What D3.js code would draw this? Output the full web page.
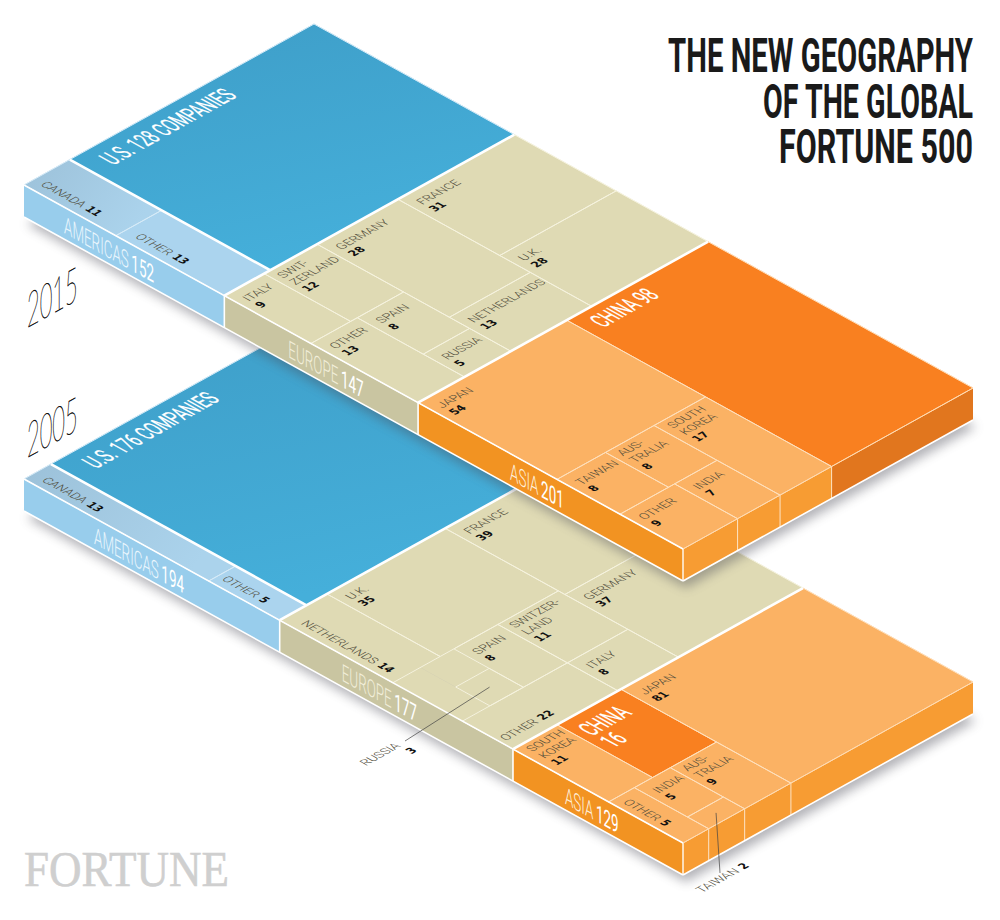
<!DOCTYPE html>
<html><head><meta charset="utf-8">
<script src="https://cdn.jsdelivr.net/npm/d3@7"></script>
<style>html,body{margin:0;background:#fff}svg{display:block}</style></head>
<body><svg id="c" width="1000" height="920"></svg>
<script>
// ---------- data: nested slice/dice layouts of the 500 companies ----------
const americas2015 = ['slice', ['dice', ['CANADA', 11], ['OTHER', 13]], ['U.S.', 128]];
const europe2015 = ['slice',
  ['dice', ['slice', ['ITALY', 9], ['SWITZERLAND', 12]],
           ['slice', ['OTHER', 13], ['dice', ['SPAIN', 8], ['RUSSIA', 5]]]],
  ['dice', ['GERMANY', 28], ['NETHERLANDS', 13]],
  ['dice', ['FRANCE', 31], ['U.K.', 28]]];
const asia2015 = ['slice',
  ['dice', ['JAPAN', 54],
           ['slice', ['dice', ['slice', ['TAIWAN', 8], ['AUSTRALIA', 8]],
                              ['slice', ['OTHER', 9], ['INDIA', 7]]],
                     ['SOUTH KOREA', 17]]],
  ['CHINA', 98]];
const otherParts2005 = [5, 3.1, 13.9]; // the L-shaped "Other 22" around Spain and Russia
const americas2005 = ['slice', ['dice', ['CANADA', 13], ['OTHER', 5]], ['U.S.', 176]];
const europe2005 = ['slice',
  ['dice', ['slice', ['NETHERLANDS', 14], ['U.K.', 35]],
           ['slice',
             ['dice', ['slice', ['', otherParts2005[0]],
                                ['dice', ['', otherParts2005[1]], ['RUSSIA', 3]],
                                ['SPAIN', 8]],
                      ['OTHER', otherParts2005[2]]],
             ['dice', ['SWITZERLAND', 11], ['ITALY', 8]]]],
  ['dice', ['FRANCE', 39], ['GERMANY', 37]]];
const asia2005 = ['slice',
  ['dice', ['slice', ['SOUTH KOREA', 11], ['CHINA', 16]],
           ['slice', ['OTHER', 5], ['dice', ['INDIA', 5], ['TAIWAN', 2]], ['AUSTRALIA', 9]]],
  ['JAPAN', 81]];
const regionNames = ['AMERICAS', 'EUROPE', 'ASIA'];
const titleLines = ['THE NEW GEOGRAPHY', 'OF THE GLOBAL', 'FORTUNE 500'];
const titleWidths = [305, 210, 194];

// ---------- label placement (separate from values) ----------
const label2015 = {
  '0CANADA': {plane:'u', inline:true, at:[9,9]},
  '0OTHER': {plane:'u', inline:true, at:[12,9]},
  '1SWITZERLAND': {lines:['SWIT-','ZERLAND'], at:[16,6]},
  '1NETHERLANDS': {at:[20,8]},
  '2SOUTH KOREA': {lines:['SOUTH','KOREA'], at:[14,8]},
  '2AUSTRALIA': {lines:['AUS-','TRALIA'], at:[14,6]},
  '0U.S.': {big:true, text:'U.S. 128 COMPANIES', at:[31,19]},
  '2CHINA': {big:true, text:'CHINA 98', at:[29,13]}
};
const label2005 = {
  '0CANADA': {plane:'u', inline:true, at:[11.5,8]},
  '0OTHER': {plane:'u', inline:true, at:[5.5,8.5]},
  '1NETHERLANDS': {plane:'u', inline:true, at:[15.5,8]},
  '1OTHER': {plane:'t', inline:true, text:'OTHER', value:d3.sum(otherParts2005), free:[506,741]},
  '1SWITZERLAND': {lines:['SWITZER-','LAND'], at:[14,6]},
  '1RUSSIA': {free:[366,766], leader:[405,741], valueShift:38},
  '2SOUTH KOREA': {lines:['SOUTH','KOREA'], at:[14,8]},
  '2AUSTRALIA': {lines:['AUS-','TRALIA'], at:[14,6]},
  '2OTHER': {plane:'u', inline:true, at:[8.6,7]},
  '2TAIWAN': {plane:'t', inline:true, free:[702,893], leader:[720,873]},
  '2CHINA': {bigLines:['CHINA','16'], at:[32,8]},
  '0U.S.': {big:true, text:'U.S. 176 COMPANIES', at:[31,21]}
};
const regionStart2015 = [40, 64, 92];
const regionStart2005 = [70, 62, 52];

// ---------- geometry ----------
const svg = d3.select('#c');
const UX = 659, UY = 364, VX = 290, VY = -161, H = 32;
const ux = d3.scaleLinear([0,1],[0,UX]), uy = d3.scaleLinear([0,1],[0,UY]);
const vx = d3.scaleLinear([0,1],[0,VX]), vy = d3.scaleLinear([0,1],[0,VY]);
const C = .874, S = .485;
const line = d3.line();
const defs = svg.append('defs');
defs.append('filter').attr('id','blur').attr('x','-10%').attr('y','-10%').attr('width','120%').attr('height','120%')
  .append('feGaussianBlur').attr('stdDeviation',5.5);
function grad(id,a,b,x2,y2){const g=defs.append('linearGradient').attr('id',id).attr('x1',0).attr('y1',0).attr('x2',x2).attr('y2',y2);
  g.append('stop').attr('offset',0).attr('stop-color',a);g.append('stop').attr('offset',1).attr('stop-color',b);}
grad('gUS','#3E9DC7','#45AFDA',.4,1);
grad('gCA','#9CC1D9','#ABD3EC',1,.4);

const NARROW = "Roboto,'Liberation Sans',sans-serif";
const BOLD = "'DejaVu Sans',sans-serif";

function matrix(plane,sx,x,y){
  if(plane==='t') return `matrix(${C*sx},${-S*sx},${C},${S},${x},${y})`;
  if(plane==='u') return `matrix(${C*sx},${S*sx},${-C},${S},${x},${y})`;
  if(plane==='fu') return `matrix(${C*sx},${S*sx},0,1,${x},${y})`;
  if(plane==='ft') return `matrix(${C*sx},${-S*sx},0,1,${x},${y})`;
}
function txt(g,plane,sx,x,y,str,size,fill,family,weight,ty){
  return g.append('text').attr('transform',matrix(plane,sx,x,y)).attr('y',ty||0)
    .attr('font-family',family).attr('font-size',size).attr('font-weight',weight||400).attr('fill',fill).text(str);
}
function smallLabel(g,plane,x,y,lines,value,spec){
  const ink='#4f4c3a';
  if(spec.inline){
    const t=txt(g,plane,1,x,y,lines[0],12,ink,NARROW,300);
    const w=t.node().getComputedTextLength()+4;
    const dy=plane==='t'?-S:S;
    txt(g,plane,.9,x+C*w,y+dy*w,value,11.5,'#111',BOLD,700);
  } else {
    lines.forEach((l,i)=>txt(g,plane,1,x,y,l,12,ink,NARROW,300,i*14));
    const vs=spec.valueShift||0;
    txt(g,plane,.9,x+C*vs,y-S*vs,value,11.5,'#111',BOLD,700,lines.length*14);
  }
}
function bigLabel(g,x,y,lines,size,sx){
  lines.forEach((l,i)=>txt(g,'t',sx,x,y,l,size,'#fff',NARROW,400,i*size*.95)
    .attr('stroke','#fff').attr('stroke-width',.3));
}

function slab(ox,oy,root,labels,regionStart){
  const p=(u,v)=>[ox+ux(u)+vx(v), oy+uy(u)+vy(v)];
  const down=q=>[q[0],q[1]+H];
  const g=svg.append('g');
  const kids=d=>Array.isArray(d[1])?d.slice(1):null;
  const h=d3.hierarchy(root,kids).sum(d=>typeof d[1]==='number'?d[1]:0);
  d3.treemap().size([1,1]).round(false)
    .tile((n,a,b,c,e)=>(n.data[0]==='dice'?d3.treemapDice:d3.treemapSlice)(n,a,b,c,e))(h);
  const regions=h.children;
  regions.forEach((r,i)=>r.leaves().forEach(l=>{l.region=i;l.key=i+l.data[0];}));
  const leaves=h.leaves();
  // shadow
  g.append('path').attr('d',line([p(0,0),p(1,0),p(1,1),p(0,1)].map(q=>[q[0]+3,q[1]+H+7]))+'Z')
    .attr('fill','#4a4a55').attr('opacity',.42).attr('filter','url(#blur)');
  // front faces
  const frontFill=['#98CDEC','#C9C5A1','#F29322'];
  g.selectAll('path.f').data(regions).join('path').attr('class','f')
    .attr('d',r=>line([p(r.x0,0),p(r.x1,0),down(p(r.x1,0)),down(p(r.x0,0))])+'Z')
    .attr('fill',(r,i)=>frontFill[i]);
  // right faces
  g.selectAll('path.r').data(leaves.filter(l=>l.x1>.9999)).join('path').attr('class','r')
    .attr('d',l=>line([p(1,l.y0),p(1,l.y1),down(p(1,l.y1)),down(p(1,l.y0))])+'Z')
    .attr('fill',l=>(l.data[0]==='CHINA')?'#E1761E':'#F79C33');
  g.selectAll('path.rl').data(leaves.filter(l=>l.x1>.9999)).join('path').attr('class','rl')
    .attr('d',l=>line([p(1,l.y0),down(p(1,l.y0))])).attr('stroke','#FFE3C2').attr('stroke-width',1);
  // top faces
  const fill=l=>{
    const n=l.data[0];
    if(l.region===0) return n==='U.S.'?'url(#gUS)':n==='CANADA'?'url(#gCA)':'#ABD4EE';
    if(l.region===1) return '#DFDAB4';
    return n==='CHINA'?'#F98020':'#FBB264';
  };
  g.selectAll('path.t').data(leaves).join('path').attr('class','t')
    .attr('d',l=>line([p(l.x0,l.y0),p(l.x1,l.y0),p(l.x1,l.y1),p(l.x0,l.y1)])+'Z')
    .attr('fill',fill).attr('stroke',fill).attr('stroke-width',.4);
  const thin=['#D6EBF8','#F6F3DE','#FFE0BC'];
  g.selectAll('path.o').data(leaves.filter(l=>l.data[0]!=='')).join('path').attr('class','o')
    .attr('d',l=>line([p(l.x0,l.y0),p(l.x1,l.y0),p(l.x1,l.y1),p(l.x0,l.y1)])+'Z')
    .attr('fill','none').attr('stroke',l=>thin[l.region]).attr('stroke-width',1);
  // region dividers and edges
  const us=leaves.find(l=>l.data[0]==='U.S.');
  const thick=[[p(0,us.y0),p(us.x1,us.y0)],
    [p(regions[0].x1,0),p(regions[0].x1,1)],
    [p(regions[1].x1,0),p(regions[1].x1,1)]];
  g.selectAll('path.th').data(thick).join('path').attr('class','th').attr('d',d=>line(d))
    .attr('stroke','#fff').attr('stroke-width',2.6).attr('fill','none');
  const edges=[[p(0,0),p(1,0)],[down(p(0,0)),down(p(1,0))],[down(p(1,0)),down(p(1,1))]];
  g.selectAll('path.e').data(edges).join('path').attr('class','e').attr('d',d=>line(d))
    .attr('stroke','#fff').attr('stroke-width',1.6).attr('fill','none');
  g.selectAll('path.v').data(regions.map(r=>r.x1)).join('path').attr('class','v')
    .attr('d',u=>line([p(u,0),down(p(u,0))])).attr('stroke','#fff').attr('stroke-width',u=>u>.999?1:1.6);
  g.append('path').attr('d',line([p(1,0),p(1,1)])).attr('stroke','#FFD9AE').attr('stroke-width',.8);
  // region names on the front face
  regions.forEach((r,i)=>{
    const total=d3.sum(r.leaves(),l=>l.value);
    const size=24, sx=.64;
    const x=p(r.x0,0)[0]+regionStart[i];
    const y=oy+uy((x-ox)/UX)+H-6;
    const name=txt(g,'fu',sx,x,y,regionNames[i],size,i===1?'#F1EED9':i===0?'#EAF6FD':'#FFF0DD',NARROW,300);
    const w1=name.node().getComputedTextLength()*sx+3;
    txt(g,'fu',sx,x+C*w1,y+S*w1,total,size,'#fff',NARROW,400);
  });
  // cell labels
  leaves.filter(l=>l.data[0]!=='').forEach(l=>{
    const spec=labels[l.key]||{};
    const c=p(l.x0,l.y0);
    const at=spec.at||[20,8];
    const a=at[0], b=at[1];
    const x=spec.free?spec.free[0]:c[0]+C*a+C*b;
    const y=spec.free?spec.free[1]:c[1]+S*a-S*b;
    if(spec.big){ bigLabel(g,x,y,[spec.text],26,.575); return; }
    if(spec.bigLines){ bigLabel(g,x,y,spec.bigLines,26,.6); return; }
    if(spec.leader){
      const ctr=p((l.x0+l.x1)/2,(l.y0+l.y1)/2);
      g.append('path').attr('d',line([ctr,spec.leader])).attr('stroke','#444').attr('stroke-width',.7).attr('fill','none');
    }
    const plane=spec.plane||'t';
    const name=spec.text||l.data[0];
    smallLabel(g,plane,x,y,spec.lines||[name],spec.value!==undefined?spec.value:l.data[1],spec);
  });
}

slab(24,479,['dice',americas2005,europe2005,asia2005],label2005,regionStart2005);
slab(24,185,['dice',americas2015,europe2015,asia2015],label2015,regionStart2015);

// years
[['2015',27,328],['2005',27,458]].forEach(d=>{
  svg.append('text').attr('transform',matrix('ft',.52,d[1],d[2])).attr('font-family',"Lato,Roboto,sans-serif")
    .attr('font-weight',100).attr('font-size',48).attr('fill','#111').attr('stroke','#111').attr('stroke-width',.55).text(d[0]);
});
// title
titleLines.forEach((t,i)=>{
  const el=svg.append('text').attr('text-anchor','end')
   .attr('font-family',"Roboto,sans-serif").attr('font-weight',700).attr('font-size',49).attr('fill','#1a1a1a').text(t);
  const sx=titleWidths[i]/el.node().getComputedTextLength();
  el.attr('transform',`translate(973,${72+i*45.5}) scale(${sx},1)`);
});
svg.append('text').attr('x',24).attr('y',886).attr('font-family',"'Liberation Serif',serif").attr('font-size',50)
  .attr('textLength',205).attr('lengthAdjust','spacingAndGlyphs').attr('fill','#CFCFCF').attr('stroke','#CFCFCF').attr('stroke-width',.6).text('FORTUNE');
</script></body></html>
